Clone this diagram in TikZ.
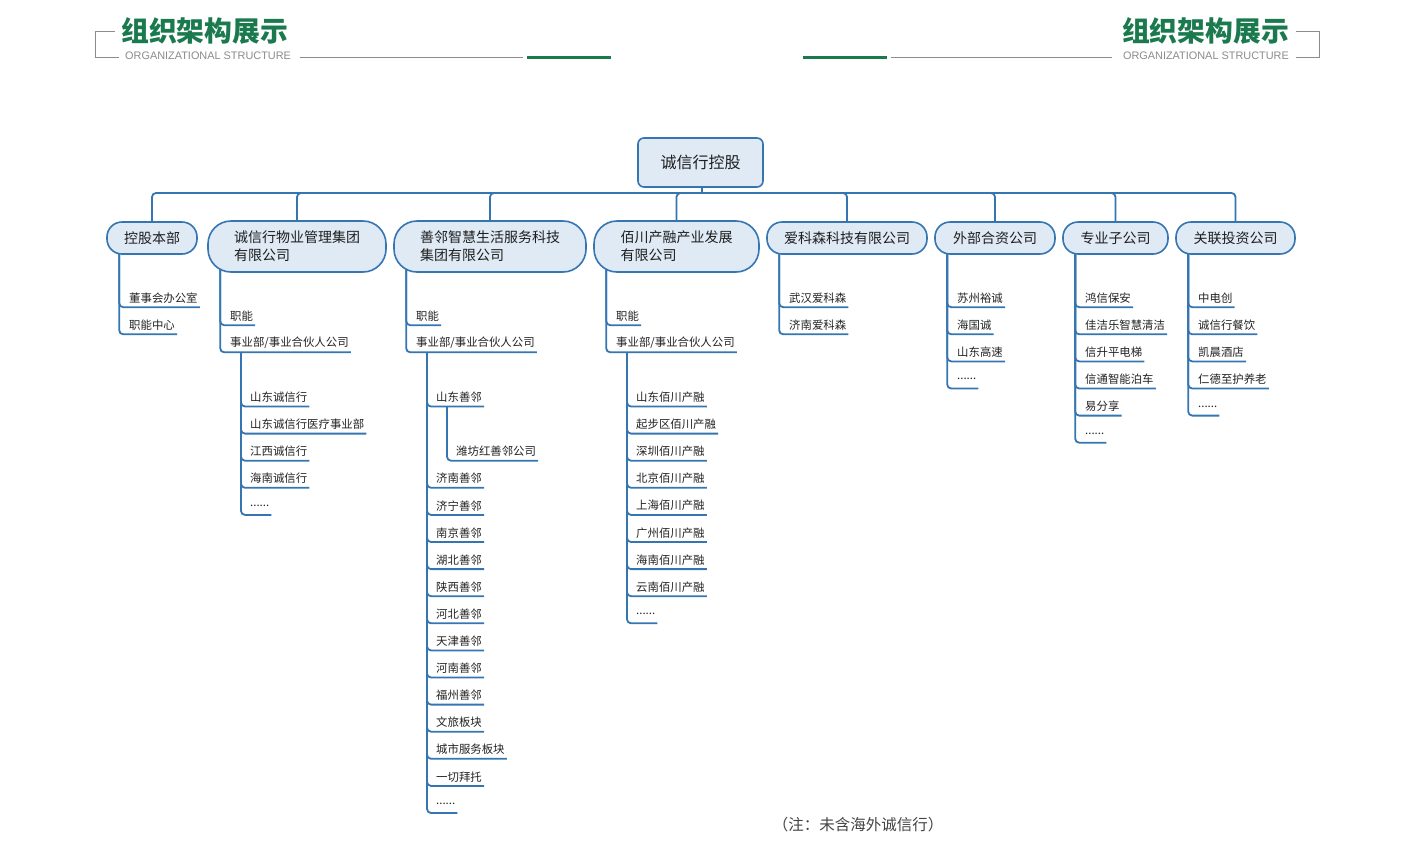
\documentclass[tikz,border=0pt]{standalone}
\usepackage{fontspec}
\setmainfont{Noto Sans CJK SC}
\newfontfamily\latsans{Liberation Sans}
\definecolor{lineblue}{RGB}{52,117,178}
\definecolor{nodefill}{RGB}{223,234,245}
\definecolor{hgreen}{RGB}{26,122,78}
\definecolor{hgray}{RGB}{140,140,140}
\definecolor{leaftext}{RGB}{35,35,35}
\definecolor{nodetext}{RGB}{30,30,30}
\pgfdeclarelayer{back}
\pgfdeclarelayer{bg}
\pgfsetlayers{back,bg,main}
\tikzset{
  conn/.style={draw=lineblue, line width=1.8pt, rounded corners=4pt},
  leaf/.style={anchor=west, inner sep=0pt, minimum height=18pt, text=leaftext,
    font=\fontsize{11.4}{12}\selectfont},
  lvl/.style={draw=lineblue, fill=nodefill, line width=1.6pt, text=nodetext,
    font=\fontsize{14}{18}\selectfont, inner sep=0pt, align=left,
    minimum height=32pt, rounded corners=15pt},
  lvltwo/.style={lvl, minimum height=51pt, rounded corners=23pt},
  rootbox/.style={draw=lineblue, fill=nodefill, line width=1.6pt, text=nodetext,
    rounded corners=6pt, minimum width=125pt, minimum height=49pt, inner sep=0pt,
    font=\fontsize{16}{18}\selectfont},
  hline/.style={draw=hgray, line width=1pt},
  gline/.style={draw=hgreen, line width=3pt},
  htitle/.style={text=hgreen, inner sep=0pt, font=\fontsize{27.8}{30}\selectfont\bfseries},
  hsub/.style={text=hgray, inner sep=0pt, font=\latsans\fontsize{10.9}{12}\selectfont},
}
\newcommand\sixdots{......}
\newcommand\leafcol[5]{%
  \foreach \t [count=\i from 0] in {#5} {
    \node[leaf] (#1-\i) at ({#2+9},{#3+27.1*\i}) {\t};
    \begin{pgfonlayer}{bg}
      \draw[conn] (#4) |- ([xshift=2pt]#1-\i.south east);
    \end{pgfonlayer}
  }%
}
\begin{document}
\begin{tikzpicture}[x=1pt,y=-1pt]
\begin{pgfonlayer}{back}
\fill[white] (0,0) rectangle (1414,849);
\end{pgfonlayer}
\useasboundingbox (0,0) rectangle (1414,849);

% ---------- header left ----------
\node[htitle, anchor=west] (tl) at (121,31) {组织架构展示};
\node[hsub, anchor=west] (sl) at (125,56) {ORGANIZATIONAL STRUCTURE};
\coordinate (bl1) at (115,31);
\coordinate (bl2) at (95,31);
\coordinate (bl3) at (95,57);
\coordinate (bl4) at (119,57);
\draw[hline] (bl1) -- (bl2) -- (bl3) -- (bl4);
\coordinate (gl1) at (300,57); \coordinate (gl2) at (523,57);
\draw[hline] (gl1) -- (gl2);
\coordinate (el1) at (527,57); \coordinate (el2) at (611,57);
\draw[gline] (el1) -- (el2);

% ---------- header right ----------
\node[htitle, anchor=east] (tr) at (1289,31) {组织架构展示};
\node[hsub, anchor=east] (sr) at (1289,56) {ORGANIZATIONAL STRUCTURE};
\coordinate (br1) at (1296,31);
\coordinate (br2) at (1319,31);
\coordinate (br3) at (1319,57);
\coordinate (br4) at (1296,57);
\draw[hline] (br1) -- (br2) -- (br3) -- (br4);
\coordinate (gr1) at (891,57); \coordinate (gr2) at (1112,57);
\draw[hline] (gr1) -- (gr2);
\coordinate (er1) at (803,57); \coordinate (er2) at (887,57);
\draw[gline] (er1) -- (er2);

% ---------- root and level 1 ----------
\node[rootbox] (r) at (700.5,162.5) {诚信行控股};
\node[lvl, minimum width=90pt]  (n1) at (152,238) {控股本部};
\node[lvltwo, minimum width=178pt] (n2) at (297,246.5) {诚信行物业管理集团\\有限公司};
\node[lvltwo, minimum width=192pt] (n3) at (490,246.5) {善邻智慧生活服务科技\\集团有限公司};
\node[lvltwo, minimum width=165pt] (n4) at (676.5,246.5) {佰川产融产业发展\\有限公司};
\node[lvl, minimum width=160pt] (n5) at (847,238) {爱科森科技有限公司};
\node[lvl, minimum width=120pt] (n6) at (995,238) {外部合资公司};
\node[lvl, minimum width=105pt] (n7) at (1115.5,238) {专业子公司};
\node[lvl, minimum width=119pt] (n8) at (1235.5,238) {关联投资公司};

\coordinate (bus) at (702,193);
\begin{pgfonlayer}{bg}
  \draw[conn] (r.south -| bus) -- (bus);
  \foreach \n in {n1,n2,n3,n4,n5,n6,n7,n8}
    \draw[conn] (bus) -| (\n.north);
\end{pgfonlayer}

% ---------- column starts ----------
\coordinate (c1) at ([xshift=13pt,yshift=4pt]n1.south west);
\coordinate (c2) at ([xshift=13pt,yshift=4pt]n2.south west);
\coordinate (c3) at ([xshift=13pt,yshift=4pt]n3.south west);
\coordinate (c4) at ([xshift=13pt,yshift=4pt]n4.south west);
\coordinate (c5) at ([xshift=13pt,yshift=4pt]n5.south west);
\coordinate (c6) at ([xshift=13pt,yshift=4pt]n6.south west);
\coordinate (c7) at ([xshift=13pt,yshift=4pt]n7.south west);
\coordinate (c8) at ([xshift=13pt,yshift=4pt]n8.south west);

% 控股本部
\leafcol{a}{120}{298}{c1}{董事会办公室,职能中心}
% 诚信行物业
\leafcol{b}{221}{316}{c2}{职能,事业部/事业合伙人公司}
\coordinate (c2s) at ([xshift=11pt]b-1.south west);
\leafcol{bs}{241}{397.3}{c2s}{山东诚信行,山东诚信行医疗事业部,江西诚信行,海南诚信行,\sixdots}
% 善邻
\leafcol{c}{407}{316}{c3}{职能,事业部/事业合伙人公司}
\coordinate (c3s) at ([xshift=11pt]c-1.south west);
\leafcol{cs}{427}{397.3}{c3s}{山东善邻}
\coordinate (c3ss) at ([xshift=11pt]cs-0.south west);
\leafcol{css}{447}{451.5}{c3ss}{潍坊红善邻公司}
\leafcol{ct}{427}{478.6}{c3s}{济南善邻,济宁善邻,南京善邻,湖北善邻,陕西善邻,河北善邻,天津善邻,河南善邻,福州善邻,文旅板块,城市服务板块,一切拜托,\sixdots}
% 佰川
\leafcol{d}{607}{316}{c4}{职能,事业部/事业合伙人公司}
\coordinate (c4s) at ([xshift=11pt]d-1.south west);
\leafcol{ds}{627}{397.3}{c4s}{山东佰川产融,起步区佰川产融,深圳佰川产融,北京佰川产融,上海佰川产融,广州佰川产融,海南佰川产融,云南佰川产融,\sixdots}
% 爱科森
\leafcol{e}{780}{298}{c5}{武汉爱科森,济南爱科森}
% 外部合资
\leafcol{f}{948}{298}{c6}{苏州裕诚,海国诚,山东高速,\sixdots}
% 专业子公司
\leafcol{g}{1076}{298}{c7}{鸿信保安,佳洁乐智慧清洁,信升平电梯,信通智能泊车,易分享,\sixdots}
% 关联投资
\leafcol{h}{1189}{298}{c8}{中电创,诚信行餐饮,凯晨酒店,仁德至护养老,\sixdots}

% note
\node[text=leaftext!85!white, inner sep=0pt, font=\fontsize{15.5}{17}\selectfont] (note) at (858,825) {（注：未含海外诚信行）};
\end{tikzpicture}
\end{document}
